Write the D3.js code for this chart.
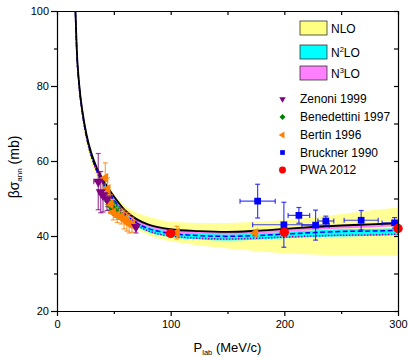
<!DOCTYPE html>
<html lang="en">
<head>
<meta charset="UTF-8">
<title>beta sigma ann</title>
<script src="https://cdn.jsdelivr.net/npm/d3@7"></script>
<style>
    body { margin: 0; background: #fff; }
    text { font-family: "Liberation Sans", Arial, sans-serif; }
</style>
</head>
<body>
<svg id="chart" width="408" height="358"></svg>
<script>
// ---- data ----
const pGrid = [16, 17.5, 19.5, 22.5, 26, 30, 35, 40, 45, 50, 60, 70, 80, 90, 100, 125, 150, 175, 200, 225, 250, 275, 300];

// NLO band (yellow)
const nloLo = [98, 86, 77.5, 70.5, 64.5, 59.7, 55.6, 52.6, 50, 47.6, 44.0, 41.8, 40.3, 39.3, 38.6, 37.5, 36.7, 36.0, 35.4, 35.1, 34.9, 34.8, 34.8];
const nloHi = [101.5, 88.5, 80, 72.6, 66.6, 62, 58.2, 55.6, 53.2, 51.2, 48, 46.3, 45.2, 44.4, 43.8, 43.5, 43.5, 43.8, 44.3, 45, 45.9, 46.8, 47.6];
// N2LO band (cyan)
const n2loLo = [101.2, 88.2, 79.7, 72.1, 66.0, 61.2, 56.9, 53.9, 51.3, 49.0, 45.0, 42.6, 41.1, 40.2, 39.7, 39.1, 38.8, 39.0, 39.4, 39.7, 39.9, 40.0, 40.2];
const n2loHi = [101.8, 88.8, 80.3, 72.8, 66.7, 62.0, 57.9, 54.9, 52.4, 50.2, 46.3, 44.0, 42.6, 41.8, 41.2, 40.7, 40.5, 40.7, 41.1, 41.5, 41.8, 41.9, 42.1];
// N3LO band (magenta)
const n3loLo = [101.7, 88.7, 80.2, 72.6, 66.6, 61.8, 57.7, 54.7, 52.2, 50.0, 46.1, 43.8, 42.4, 41.6, 41.1, 40.6, 40.4, 40.7, 41.1, 41.6, 42.0, 42.3, 42.6];
const n3loHi = [102, 89, 80.5, 73, 67, 62.3, 58.2, 55.3, 52.8, 50.6, 46.8, 44.5, 43.1, 42.3, 41.8, 41.3, 41.1, 41.4, 41.9, 42.4, 42.8, 43.1, 43.4];
// central lines
const lineSolid = [102, 89, 80.5, 73, 67, 62.3, 58.2, 55.3, 52.8, 50.6, 46.8, 44.5, 43.1, 42.3, 41.8, 41.3, 41.1, 41.4, 41.9, 42.4, 42.8, 43.1, 43.4];
const lineDash = [101.6, 88.6, 80.1, 72.5, 66.5, 61.7, 57.5, 54.5, 52.0, 49.7, 45.8, 43.5, 42.0, 41.2, 40.7, 40.1, 39.9, 40.1, 40.5, 40.9, 41.2, 41.3, 41.5];
const lineDot = [101.4, 88.4, 79.9, 72.3, 66.2, 61.4, 57.2, 54.2, 51.6, 49.3, 45.3, 42.9, 41.4, 40.5, 40.0, 39.4, 39.2, 39.4, 39.7, 40.0, 40.2, 40.3, 40.5];

// experiments
const zenP = [36.3, 38.5, 40.5, 44, 69.5];
const zenV = [54.5, 51.7, 50.9, 49.8, 42.4];
const zenE = [7.5, 5.5, 4.5, 3.0, 1.6];
const zenXE = [4, 2, 1.5, 1, 0];

const benP = [44.5, 46, 47.5, 49, 50.5, 52, 54];
const benV = [49.3, 48.4, 47.9, 47.4, 47.0, 46.5, 46.0];
const benE = [1.5, 1.5, 1.5, 1.5, 1.5, 1.5, 1.5];

const berP = [42.5, 44.5, 47, 49.5, 53, 56.5, 59, 61.5, 63.5, 66, 105.5, 174.5];
const berV = [55.5, 52.5, 48.5, 46.3, 45.6, 45.2, 44.4, 43.8, 43.3, 43.0, 40.9, 40.8];
const berE = [4, 3, 2.5, 2, 2, 2, 2.5, 2.5, 2.5, 2, 1.7, 0.8];

const bruP = [176.5, 199.6, 212.8, 227.5, 236.5, 267.6, 297];
const bruV = [49.3, 43.0, 45.5, 42.9, 44.0, 44.2, 43.5];
const bruE = [4.5, 6.0, 2.1, 4.0, 1.3, 2.6, 1.4];
const bruXE = [15.5, 27.5, 9.5, 12, 7, 15, 11];

const pwaP = [100, 200, 300];
const pwaV = [40.7, 41.0, 42.0];

const xTicks = [0, 100, 200, 300];
const yTicks = [20, 40, 60, 80, 100];

// ---- setup ----
const svg = d3.select('#chart');
const x = d3.scaleLinear().domain([0, 300]).range([57, 398]);
const y = d3.scaleLinear().domain([20, 100]).range([311, 11]);

svg.append("clipPath").attr("id", "plotClip")
    .append("rect").attr("x", 57).attr("y", 11).attr("width", 341).attr("height", 300);

const plot = svg.append("g").attr("clip-path", "url(#plotClip)");

function band(lo, hi, fill) {
    const area = d3.area()
        .x((d, i) => x(pGrid[i]))
        .y0((d, i) => y(lo[i]))
        .y1((d, i) => y(hi[i]))
        .curve(d3.curveMonotoneX);
    plot.append("path").attr("d", area(pGrid)).attr("fill", fill).attr("stroke", "none");
}
function curve(vals, color, dash, w) {
    const line = d3.line()
        .x((d, i) => x(pGrid[i]))
        .y((d, i) => y(vals[i]))
        .curve(d3.curveMonotoneX);
    plot.append("path").attr("d", line(pGrid))
        .attr("fill", "none").attr("stroke", color)
        .attr("stroke-width", w).attr("stroke-dasharray", dash);
}

band(nloLo, nloHi, "#ffff96");
band(n2loLo, n2loHi, "#00ffff");
band(n3loLo, n3loHi, "#ff80ff");
curve(lineDot, "#a000a0", "1.5,1.5", 1.5);
curve(lineDash, "#0000ff", "5,2.5", 1.5);
curve(lineSolid, "#000000", null, 1.8);

// ---- experimental points ----
const errG = svg.append("g").attr("clip-path", "url(#plotClip)");
const markG = svg.append("g");

function series(ps, vs, es, xes, color, sym, size, rot) {
    ps.forEach((p, i) => {
        const cx = x(p), cy = y(vs[i]);
        const g = errG.append("g").attr("stroke", color).attr("stroke-opacity", 0.75).attr("stroke-width", 1.2);
        if (es && es[i] > 0) {
            const y1 = y(vs[i] - es[i]), y2 = y(vs[i] + es[i]);
            g.append("line").attr("x1", cx).attr("x2", cx).attr("y1", y1).attr("y2", y2);
            g.append("line").attr("x1", cx - 2.5).attr("x2", cx + 2.5).attr("y1", y1).attr("y2", y1);
            g.append("line").attr("x1", cx - 2.5).attr("x2", cx + 2.5).attr("y1", y2).attr("y2", y2);
        }
        if (xes && xes[i] > 0) {
            const x1 = x(p - xes[i]), x2 = x(p + xes[i]);
            g.append("line").attr("x1", x1).attr("x2", x2).attr("y1", cy).attr("y2", cy);
            g.append("line").attr("x1", x1).attr("x2", x1).attr("y1", cy - 2.5).attr("y2", cy + 2.5);
            g.append("line").attr("x1", x2).attr("x2", x2).attr("y1", cy - 2.5).attr("y2", cy + 2.5);
        }
        markG.append("path")
            .attr("d", d3.symbol().type(sym).size(size)())
            .attr("transform", `translate(${cx},${cy}) rotate(${rot})`)
            .attr("fill", color);
    });
}

series(benP, benV, benE, null, "#008000", d3.symbolSquare, 30, 45);
series(berP, berV, berE, null, "#ff8000", d3.symbolTriangle, 44, -90);
series(zenP, zenV, zenE, zenXE, "#800080", d3.symbolTriangle, 44, 180);
series(bruP, bruV, bruE, bruXE, "#0000ff", d3.symbolSquare, 45, 0);
series(pwaP, pwaV, null, null, "#ff0000", d3.symbolCircle, 70, 0);

// ---- axes ----
function styleAxis(g) {
    g.attr("font-size", 11).attr("font-family", "Liberation Sans, Arial, sans-serif");
    g.selectAll("path, line").attr("stroke", "#000").attr("stroke-width", 1.2);
    g.selectAll("text").attr("fill", "#000");
}
svg.append("g").attr("transform", "translate(0,311)")
    .call(d3.axisBottom(x).tickValues(xTicks).tickSize(5).tickSizeOuter(0).tickPadding(4)).call(styleAxis);
svg.append("g").attr("transform", "translate(0,311)")
    .call(d3.axisBottom(x).tickValues([50, 150, 250]).tickSize(3).tickFormat("")).call(styleAxis)
    .call(g => g.select(".domain").remove());
svg.append("g").attr("transform", "translate(57,0)")
    .call(d3.axisLeft(y).tickValues(yTicks).tickSize(6).tickSizeOuter(0).tickPadding(2)).call(styleAxis);
svg.append("g").attr("transform", "translate(57,0)")
    .call(d3.axisLeft(y).tickValues([30, 50, 70, 90]).tickSize(3).tickFormat("")).call(styleAxis)
    .call(g => g.select(".domain").remove());
svg.append("g").attr("transform", "translate(0,11)")
    .call(d3.axisTop(x).tickValues([0, 50, 100, 150, 200, 250, 300]).tickSize(-4).tickSizeOuter(0).tickFormat("")).call(styleAxis);
svg.append("g").attr("transform", "translate(398,0)")
    .call(d3.axisRight(y).tickValues([20, 30, 40, 50, 60, 70, 80, 90, 100]).tickSize(-4).tickSizeOuter(0).tickFormat("")).call(styleAxis);

// axis titles
const xt = svg.append("text").attr("x", 227.5).attr("y", 352).attr("text-anchor", "middle").attr("font-size", 13);
xt.append("tspan").text("P");
xt.append("tspan").attr("font-size", 7.5).attr("dy", 3).text("lab");
xt.append("tspan").attr("dy", -3).text(" (MeV/c)");

const yt = svg.append("text").attr("transform", "translate(19,167) rotate(-90)")
    .attr("text-anchor", "middle").attr("font-size", 14);
yt.append("tspan").text("βσ");
yt.append("tspan").attr("font-size", 8).attr("dy", 3).text("ann");
yt.append("tspan").attr("dy", -3).text(" (mb)");

// ---- legend ----
const bandKeys = [
    { sup: null, fill: "#ffff80", cy: 28 },
    { sup: "2", fill: "#00ffff", cy: 52 },
    { sup: "3", fill: "#ff80ff", cy: 73 }
];
bandKeys.forEach(k => {
    svg.append("rect").attr("x", 300).attr("y", k.cy - 7).attr("width", 27).attr("height", 14)
        .attr("fill", k.fill).attr("stroke", "#333").attr("stroke-width", 0.8);
    const t = svg.append("text").attr("x", 331).attr("y", k.cy + 4.5).attr("font-size", 12);
    t.append("tspan").text("N");
    if (k.sup) {
        t.append("tspan").attr("font-size", 7.5).attr("dy", -4.5).text(k.sup);
        t.append("tspan").attr("dy", 4.5).text("LO");
    } else {
        t.append("tspan").text("LO");
    }
});

const pointKeys = [
    { label: "Zenoni 1999", color: "#800080", sym: d3.symbolTriangle, size: 18, rot: 180, cy: 99 },
    { label: "Benedettini 1997", color: "#008000", sym: d3.symbolSquare, size: 18, rot: 45, cy: 117 },
    { label: "Bertin 1996", color: "#ff8000", sym: d3.symbolTriangle, size: 20, rot: -90, cy: 135 },
    { label: "Bruckner 1990", color: "#0000ff", sym: d3.symbolSquare, size: 22, rot: 0, cy: 152.5 },
    { label: "PWA 2012", color: "#ff0000", sym: d3.symbolCircle, size: 38, rot: 0, cy: 170 }
];
pointKeys.forEach(k => {
    svg.append("path").attr("d", d3.symbol().type(k.sym).size(k.size)())
        .attr("transform", `translate(282.5,${k.cy}) rotate(${k.rot})`).attr("fill", k.color);
    svg.append("text").attr("x", 300).attr("y", k.cy + 4.3).attr("font-size", 12).text(k.label);
});
</script>
</body>
</html>
